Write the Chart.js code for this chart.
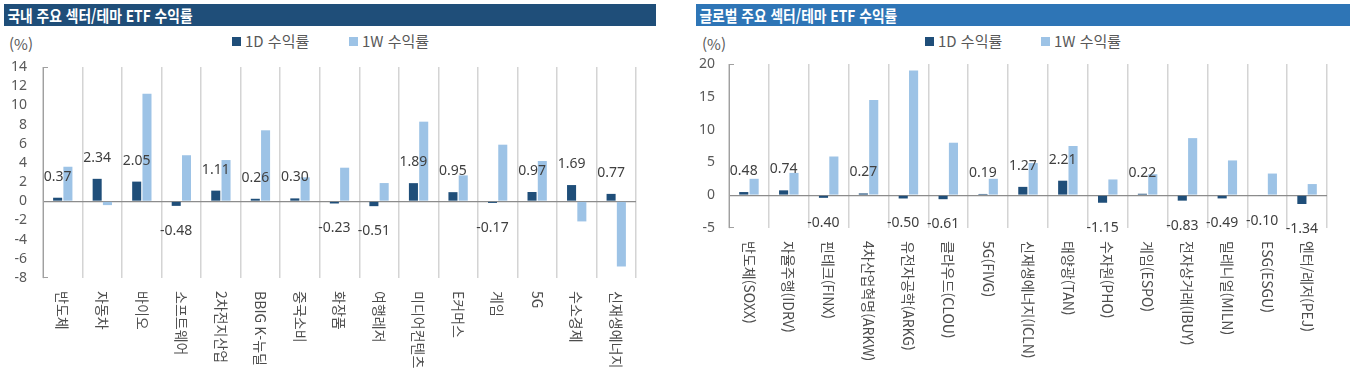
<!DOCTYPE html>
<html lang="ko">
<head>
<meta charset="utf-8">
<script src="https://cdn.jsdelivr.net/npm/chart.js@4"></script>
<style>
  body { margin:0; background:#fff; width:1353px; height:378px; overflow:hidden; position:relative;
         font-family:"Noto Sans CJK KR","Noto Sans",sans-serif; }
  .title { position:absolute; top:4px; height:22px; color:#fff; font-weight:bold; font-size:16px;
           line-height:22px; overflow:hidden; white-space:nowrap; }
  .title span { display:inline-block; transform:scaleX(0.86); transform-origin:left center; padding-left:4px; }
  .unit { position:absolute; top:33px; font-size:15px; color:#595959; }
  .leg { position:absolute; top:30px; font-size:15px; color:#595959; white-space:nowrap; }
  .leg i { display:inline-block; width:9px; height:9px; margin-right:4px; vertical-align:1px; }
  canvas { position:absolute; }
</style>
</head>
<body>

<div class="title" style="left:4px;width:652px;background:#1f4e79;"><span>국내 주요 섹터/테마 ETF 수익률</span></div>
<div class="unit" style="left:9px;">(%)</div>
<div class="leg" style="left:232px;"><i style="background:#1f4e79"></i>1D 수익률</div>
<div class="leg" style="left:349px;"><i style="background:#9dc3e6"></i>1W 수익률</div>
<canvas id="krChart" width="650" height="328" style="left:0;top:50px;"></canvas>

<div class="title" style="left:696px;width:654px;background:#2e75b6;"><span>글로벌 주요 섹터/테마 ETF 수익률</span></div>
<div class="unit" style="left:702px;">(%)</div>
<div class="leg" style="left:925px;"><i style="background:#1f4e79"></i>1D 수익률</div>
<div class="leg" style="left:1041px;"><i style="background:#9dc3e6"></i>1W 수익률</div>
<canvas id="glChart" width="670" height="328" style="left:680px;top:50px;"></canvas>

<script>
// 국내 주요 섹터/테마
const krLabels = ['반도체', '자동차', '바이오', '소프트웨어', '2차전지산업', 'BBIG K-뉴딜', '중국소비', '화장품',
                  '여행레저', '미디어컨텐츠', 'E커머스', '게임', '5G', '수소경제', '신재생에너지'];
const kr1D = [0.37, 2.34, 2.05, -0.48, 1.11, 0.26, 0.30, -0.23, -0.51, 1.89, 0.95, -0.17, 0.97, 1.69, 0.77];
const kr1W = [3.6, -0.4, 11.2, 4.8, 4.3, 7.4, 2.5, 3.5, 1.9, 8.3, 2.7, 5.9, 4.2, -2.1, -6.8];

// 글로벌 주요 섹터/테마
const glLabels = ['반도체(SOXX)', '자율주행(IDRV)', '핀테크(FINX)', '4차산업혁명(ARKW)', '유전자공학(ARKG)',
                  '클라우드(CLOU)', '5G(FIVG)', '신재생에너지(ICLN)', '태양광(TAN)', '수자원(PHO)', '게임(ESPO)',
                  '전자상거래(IBUY)', '밀레니얼(MILN)', 'ESG(ESGU)', '엔터/레저(PEJ)'];
const gl1D = [0.48, 0.74, -0.40, 0.27, -0.50, -0.61, 0.19, 1.27, 2.21, -1.15, 0.22, -0.83, -0.49, -0.10, -1.34];
const gl1W = [2.5, 3.4, 5.9, 14.5, 19.0, 8.0, 2.5, 4.9, 7.5, 2.4, 3.2, 8.7, 5.3, 3.3, 1.7];

var seriesNames = ['1D 수익률', '1W 수익률'];
var barColors = ['#1f4e79', '#9dc3e6'];

// 1D 값 라벨 + 세로로 쓴 카테고리 라벨
const labelPlugin = {
    id: 'labelPlugin',
    afterDatasetsDraw(chart) {
        const ctx = chart.ctx;
        const area = chart.chartArea;
        const vals = chart.data.datasets[0].data;
        ctx.save();
        ctx.font = '14px "Noto Sans", sans-serif';
        ctx.fillStyle = '#404040';
        ctx.textAlign = 'center';
        ctx.textBaseline = 'middle';
        chart.getDatasetMeta(0).data.forEach((bar, i) => {
            const v = vals[i];
            ctx.fillText(v.toFixed(2), bar.x, v >= 0 ? bar.y - 21 : bar.y + 25);
        });

        const xs = chart.scales.x;
        ctx.font = '14px "Noto Sans CJK KR", sans-serif';
        ctx.fillStyle = '#4d4d4d';
        ctx.textAlign = 'left';
        chart.data.labels.forEach((lab, i) => {
            ctx.save();
            ctx.translate(xs.getPixelForValue(i), area.bottom + 13);
            ctx.rotate(Math.PI / 2);
            ctx.fillText(lab, 0, 0);
            ctx.restore();
        });

        // small caps at both ends of the value axis
        ctx.strokeStyle = '#a0a0a0';
        ctx.lineWidth = 1;
        ctx.beginPath();
        ctx.moveTo(area.left, area.top + 0.5);
        ctx.lineTo(area.left + 5, area.top + 0.5);
        ctx.moveTo(area.left, area.bottom - 0.5);
        ctx.lineTo(area.left + 5, area.bottom - 0.5);
        ctx.stroke();
        ctx.restore();
    }
};

function makeChart(id, labels, d1, dW, yMin, yMax, yStep, axisW, tickPad, pad) {
    return new Chart(id, {
        type: 'bar',
        data: {
            labels: labels,
            datasets: [
                { label: seriesNames[0], data: d1, backgroundColor: barColors[0] },
                { label: seriesNames[1], data: dW, backgroundColor: barColors[1] }
            ]
        },
        options: {
            responsive: false,
            animation: false,
            events: [],
            categoryPercentage: 0.52,
            barPercentage: 0.88,
            layout: { padding: pad },
            plugins: { legend: { display: false }, tooltip: { enabled: false } },
            scales: {
                x: {
                    offset: true,
                    grid: { offset: true, color: '#d4d4d4', lineWidth: 1.5, drawTicks: false },
                    border: { display: false },
                    ticks: { display: false },
                    afterFit: s => { s.height = 100; }
                },
                y: {
                    min: yMin,
                    max: yMax,
                    ticks: { stepSize: yStep, autoSkip: false, padding: tickPad, color: '#595959',
                             font: { family: '"Noto Sans", sans-serif', size: 14 } },
                    grid: {
                        drawTicks: false,
                        lineWidth: 1.2,
                        color: c => c.tick && c.tick.value === 0 ? '#8c8c8c' : 'rgba(0,0,0,0)'
                    },
                    border: { display: true, color: '#a0a0a0', width: 1 },
                    afterFit: s => { s.width = axisW; s.paddingTop = 0; s.paddingBottom = 0; }
                }
            }
        },
        plugins: [labelPlugin]
    });
}

const krChart = makeChart('krChart', krLabels, kr1D, kr1W, -8, 14, 2, 43, 16,
                          { top: 17, right: 14, bottom: 0, left: 0 });
const glChart = makeChart('glChart', glLabels, gl1D, gl1W, -5, 20, 5, 49, 14,
                          { top: 14, right: 23, bottom: 50, left: 0 });
</script>
</body>
</html>
